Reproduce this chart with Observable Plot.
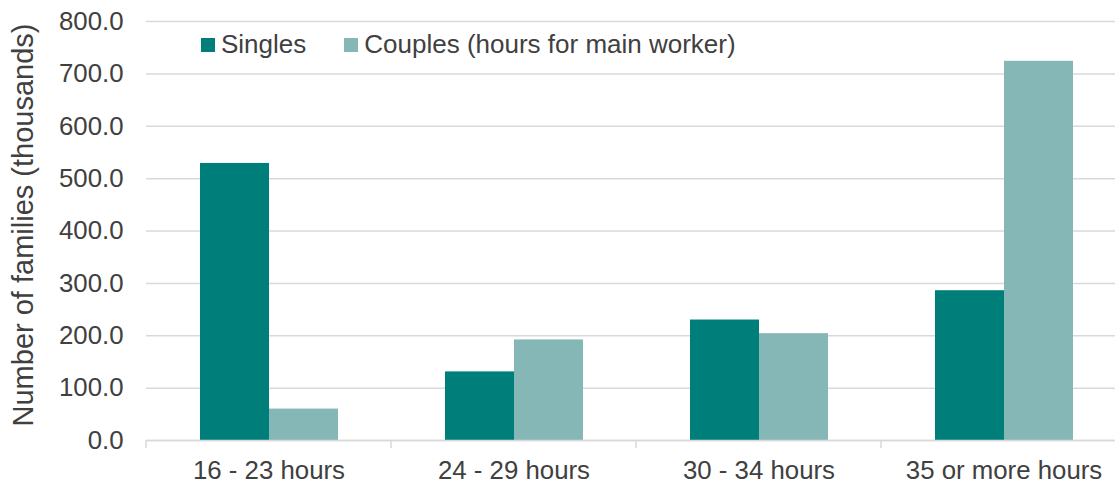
<!DOCTYPE html>
<html>
<head>
<meta charset="utf-8">
<script src="https://cdn.jsdelivr.net/npm/d3@7"></script>
<script src="https://cdn.jsdelivr.net/npm/@observablehq/plot@0.6"></script>
<style>
  html, body { margin: 0; padding: 0; background: #fff; }
  #wrap { position: relative; width: 1115px; height: 483px; overflow: hidden; font-family: "Liberation Sans", Arial, sans-serif; }
  #wrap svg { max-width: none !important; display: block; }
  #legend { position: absolute; left: 201px; top: 29px; display: flex; align-items: center; font-size: 26px; color: #404040; }
  .item { display: flex; align-items: center; margin-right: 38px; }
  .sw { width: 14px; height: 14px; margin-right: 6px; }
  #ytitle { position: absolute; left: 23px; top: 224.5px; transform: translate(-50%, -50%) rotate(-90deg); white-space: nowrap; font-size: 29px; color: #404040; line-height: 1.117; }
</style>
</head>
<body>
<div id="wrap"><div id="legend"></div><div id="ytitle"></div></div>
<script>
const categories = ["16 - 23 hours", "24 - 29 hours", "30 - 34 hours", "35 or more hours"];
const series = ["Singles", "Couples (hours for main worker)"];
const singles = [529, 131, 230, 286];
const couples = [60, 192, 204, 724];
const yTicks = [0, 100, 200, 300, 400, 500, 600, 700, 800];
const yTitle = "Number of families (thousands)";
const colors = ["#007E7A", "#86B7B7"];

const data = [];
categories.forEach((c, i) => {
  data.push({cat: c, series: series[0], value: singles[i]});
  data.push({cat: c, series: series[1], value: couples[i]});
});

const grid = "#D9D9D9";
const plot = Plot.plot({
  width: 1127,
  height: 483,
  marginTop: 21,
  marginBottom: 43,
  marginLeft: 144,
  marginRight: 0,
  style: {fontFamily: "'Liberation Sans', Arial, sans-serif", fontSize: "25.8px", color: "#404040", background: "#fff", maxWidth: "none"},
  fx: {domain: categories, paddingInner: 0, paddingOuter: 0, label: null},
  x: {domain: series, paddingInner: 0, paddingOuter: 0.755, axis: null},
  y: {domain: [0, 800], label: null},
  color: {domain: series, range: colors},
  marks: [
    Plot.gridY(yTicks, {stroke: grid, strokeOpacity: 1, strokeWidth: 1.5}),
    Plot.barY(data, {fx: "cat", x: "series", y: "value", fill: "series"}),
    Plot.ruleY([0], {stroke: grid, strokeWidth: 1.5}),
    Plot.axisY(yTicks, {tickSize: 0, tickPadding: 23, tickFormat: d => d.toFixed(1), fill: "#404040", label: null}),
    Plot.axisFx({anchor: "bottom", tickSize: 0, tickPadding: 20, fill: "#404040", label: null})
  ]
});
plot.style.maxWidth = "none";

// category boundary ticks drawn from the library's fx band scale
const fx = plot.scale("fx");
const ys = plot.scale("y");
const y0 = ys.apply(0);
const edges = categories.map(c => fx.apply(c)).concat([fx.apply(categories[categories.length - 1]) + fx.step]);
const svg = d3.select(plot);
const g = svg.append("g").attr("stroke", grid).attr("stroke-width", 1.5);
edges.forEach(x => g.append("line").attr("x1", x).attr("x2", x).attr("y1", y0).attr("y2", y0 + 8));

document.getElementById("wrap").prepend(plot);
document.getElementById("ytitle").textContent = yTitle;

const legend = d3.select("#legend");
series.forEach((s, i) => {
  const it = legend.append("div").attr("class", "item");
  it.append("div").attr("class", "sw").style("background", colors[i]);
  it.append("span").text(s);
});
</script>
</body>
</html>
